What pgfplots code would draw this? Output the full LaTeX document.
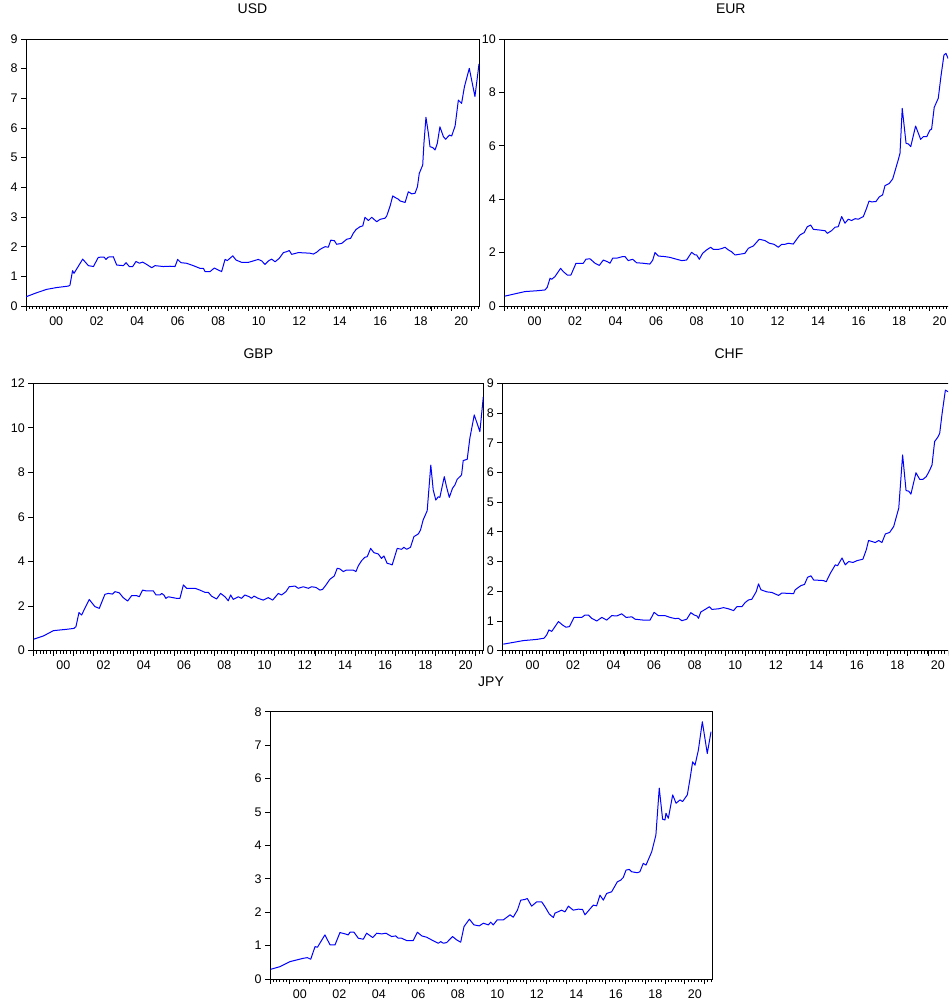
\documentclass[border=0pt]{standalone}
\usepackage{pgfplots}
\pgfplotsset{compat=1.18}
\usepackage{fontspec}
\setmainfont{Liberation Sans}
\pgfplotsset{
 ev/.style={
  scale only axis,
  xmin=1999, xmax=2021.37,
  ymin=0,
  axis line style={line width=0.9pt},
  tick align=outside,
  xtick pos=left, ytick pos=left,
  xtick={1999,...,2021},
  xticklabels={,00,,02,,04,,06,,08,,10,,12,,14,,16,,18,,20,},
  xticklabel style={xshift=10pt, yshift=-2pt},
  minor xtick={1999.16667,1999.33333,...,2021.34},
  major tick length=5pt,
  minor tick length=3pt,
  tick style={black, line width=0.8pt},
  tick label style={font=\fontsize{12.5}{12.5}\selectfont},
  /pgf/number format/assume math mode=true,
  title style={font=\fontsize{14}{14}\selectfont, at={(0.5,1)}, anchor=base, yshift=19pt},
  no markers,
  every axis plot/.append style={color={rgb,255:red,0;green,0;blue,255}, line width=1pt, line join=round, mark=none},
 }
}
\begin{document}
\begin{tikzpicture}[x=1pt,y=1pt]
\path[use as bounding box] (0,0) rectangle (948,1008);
\clip (0,0) rectangle (948,1008);
% USD
\begin{axis}[ev, at={(26pt,702pt)}, anchor=south west, width=453pt, height=267pt,
  ymax=9, ytick={0,1,...,9}, title={USD}]
\addplot table {
x y
1999.00 0.31
1999.50 0.44
2000.02 0.56
2000.50 0.62
2001.09 0.67
2001.17 0.70
2001.30 1.19
2001.37 1.10
2001.80 1.58
2002.08 1.36
2002.33 1.33
2002.57 1.64
2002.85 1.65
2002.95 1.57
2003.07 1.65
2003.31 1.66
2003.48 1.38
2003.81 1.36
2003.94 1.46
2004.10 1.33
2004.27 1.33
2004.43 1.50
2004.60 1.44
2004.76 1.48
2004.96 1.40
2005.21 1.29
2005.37 1.36
2005.78 1.33
2006.11 1.34
2006.36 1.33
2006.49 1.57
2006.65 1.46
2006.93 1.44
2007.26 1.36
2007.59 1.27
2007.76 1.27
2007.84 1.16
2008.09 1.16
2008.30 1.28
2008.50 1.21
2008.66 1.16
2008.83 1.57
2008.94 1.53
2009.21 1.69
2009.37 1.55
2009.65 1.47
2009.98 1.47
2010.23 1.52
2010.47 1.57
2010.64 1.52
2010.80 1.40
2010.97 1.52
2011.13 1.58
2011.30 1.49
2011.51 1.61
2011.71 1.80
2011.87 1.83
2012.00 1.87
2012.12 1.74
2012.45 1.80
2013.02 1.78
2013.19 1.75
2013.35 1.81
2013.52 1.91
2013.77 2.00
2013.93 1.98
2014.05 2.22
2014.23 2.20
2014.34 2.08
2014.59 2.11
2014.84 2.25
2015.03 2.28
2015.16 2.45
2015.30 2.58
2015.49 2.67
2015.63 2.70
2015.74 2.99
2015.91 2.88
2016.07 2.99
2016.32 2.84
2016.48 2.92
2016.73 2.96
2016.81 3.03
2016.98 3.37
2017.11 3.71
2017.22 3.66
2017.39 3.60
2017.47 3.54
2017.72 3.49
2017.88 3.85
2018.05 3.78
2018.21 3.80
2018.33 4.02
2018.42 4.47
2018.59 4.75
2018.65 5.48
2018.75 6.36
2018.87 5.82
2018.95 5.37
2019.08 5.34
2019.20 5.26
2019.31 5.48
2019.44 6.04
2019.61 5.71
2019.72 5.62
2019.91 5.76
2020.02 5.73
2020.19 6.07
2020.35 6.94
2020.51 6.83
2020.65 7.39
2020.89 8.01
2021.17 7.06
2021.37 8.16
};
\end{axis}
% EUR
\begin{axis}[ev, at={(504.3pt,702pt)}, anchor=south west, width=453pt, height=267pt,
  ymax=10, ytick={0,2,...,10}, title={EUR}]
\addplot table {
x y
1999.03 0.37
2000.02 0.54
2000.60 0.57
2001.01 0.60
2001.12 0.70
2001.26 1.04
2001.34 1.00
2001.50 1.10
2001.78 1.41
2001.91 1.29
2002.11 1.16
2002.29 1.16
2002.54 1.60
2002.90 1.60
2003.03 1.75
2003.23 1.77
2003.48 1.60
2003.69 1.52
2003.89 1.72
2004.09 1.66
2004.22 1.60
2004.35 1.79
2004.55 1.79
2004.84 1.85
2004.96 1.85
2005.12 1.70
2005.34 1.75
2005.53 1.62
2005.86 1.60
2006.19 1.57
2006.33 1.72
2006.44 2.00
2006.61 1.87
2006.93 1.85
2007.18 1.82
2007.51 1.75
2007.76 1.70
2008.00 1.72
2008.25 2.01
2008.42 1.91
2008.50 1.91
2008.63 1.75
2008.79 1.97
2008.99 2.10
2009.19 2.20
2009.32 2.12
2009.57 2.12
2009.73 2.15
2009.90 2.20
2010.06 2.10
2010.23 2.03
2010.39 1.91
2010.72 1.95
2010.88 1.97
2011.05 2.16
2011.30 2.25
2011.59 2.50
2011.87 2.45
2012.09 2.35
2012.32 2.31
2012.53 2.20
2012.70 2.31
2012.86 2.31
2013.02 2.35
2013.27 2.32
2013.44 2.50
2013.60 2.66
2013.81 2.75
2013.96 2.97
2014.13 3.03
2014.26 2.87
2014.51 2.85
2014.84 2.82
2014.95 2.72
2015.16 2.82
2015.33 2.95
2015.49 2.97
2015.66 3.35
2015.82 3.10
2015.99 3.25
2016.15 3.20
2016.32 3.27
2016.48 3.25
2016.73 3.35
2016.89 3.66
2017.01 3.93
2017.14 3.90
2017.35 3.91
2017.52 4.09
2017.68 4.16
2017.80 4.51
2018.01 4.59
2018.18 4.76
2018.46 5.49
2018.54 5.72
2018.65 7.40
2018.84 6.09
2018.95 6.07
2019.07 5.97
2019.31 6.74
2019.56 6.24
2019.69 6.34
2019.86 6.34
2020.02 6.59
2020.10 6.62
2020.23 7.44
2020.43 7.78
2020.56 8.59
2020.71 9.40
2020.81 9.46
2020.91 9.28
2021.10 9.20
2021.37 9.50
};
\end{axis}
% GBP
\begin{axis}[ev, at={(33.3pt,357.3pt)}, anchor=south west, width=450pt, height=267.4pt,
  ymax=12, ytick={0,2,...,12}, title={GBP}]
\addplot table {
x y
1999.03 0.52
1999.50 0.66
2000.00 0.90
2000.33 0.93
2000.66 0.96
2001.02 1.00
2001.12 1.08
2001.27 1.71
2001.40 1.60
2001.78 2.30
2002.06 1.98
2002.28 1.90
2002.56 2.53
2002.73 2.57
2002.94 2.54
2003.06 2.65
2003.27 2.60
2003.47 2.38
2003.69 2.23
2003.89 2.47
2004.14 2.47
2004.27 2.42
2004.43 2.72
2004.63 2.68
2004.96 2.69
2005.10 2.50
2005.30 2.50
2005.38 2.57
2005.49 2.50
2005.59 2.35
2005.71 2.42
2006.12 2.35
2006.29 2.35
2006.46 2.95
2006.62 2.80
2007.04 2.80
2007.28 2.72
2007.53 2.62
2007.70 2.62
2007.86 2.45
2008.11 2.32
2008.31 2.57
2008.53 2.42
2008.69 2.24
2008.81 2.50
2008.94 2.30
2009.19 2.42
2009.35 2.35
2009.52 2.50
2009.74 2.42
2009.85 2.35
2009.97 2.45
2010.18 2.35
2010.43 2.27
2010.68 2.38
2010.90 2.27
2011.18 2.57
2011.34 2.50
2011.56 2.65
2011.72 2.87
2012.01 2.90
2012.17 2.80
2012.42 2.87
2012.67 2.80
2012.83 2.87
2013.05 2.84
2013.25 2.72
2013.38 2.75
2013.55 2.95
2013.74 3.20
2013.96 3.35
2014.11 3.70
2014.24 3.67
2014.41 3.55
2014.57 3.62
2014.90 3.62
2015.04 3.55
2015.15 3.80
2015.32 4.04
2015.48 4.19
2015.60 4.22
2015.77 4.59
2015.93 4.40
2016.15 4.34
2016.31 4.14
2016.43 4.25
2016.59 3.92
2016.73 3.89
2016.84 3.85
2017.09 4.59
2017.31 4.55
2017.42 4.64
2017.56 4.55
2017.75 4.64
2017.92 5.12
2018.14 5.24
2018.25 5.42
2018.38 5.87
2018.58 6.28
2018.76 8.33
2018.88 7.21
2019.01 6.76
2019.13 6.91
2019.21 6.88
2019.43 7.81
2019.54 7.36
2019.68 6.88
2019.84 7.29
2019.96 7.44
2020.07 7.69
2020.24 7.84
2020.29 7.89
2020.37 8.53
2020.57 8.59
2020.70 9.53
2020.92 10.58
2021.20 9.83
2021.37 11.40
};
\end{axis}
% CHF
\begin{axis}[ev, at={(502.3pt,357.3pt)}, anchor=south west, width=453.4pt, height=267.4pt,
  ymax=9, ytick={0,1,...,9}, title={CHF}]
\addplot table {
x y
1999.05 0.22
2000.04 0.34
2000.70 0.38
2001.06 0.42
2001.19 0.53
2001.30 0.70
2001.44 0.65
2001.77 0.98
2001.98 0.86
2002.14 0.79
2002.31 0.81
2002.54 1.12
2002.92 1.12
2003.08 1.20
2003.25 1.20
2003.41 1.09
2003.66 1.00
2003.91 1.12
2004.15 1.03
2004.40 1.18
2004.65 1.17
2004.89 1.24
2005.11 1.12
2005.39 1.14
2005.55 1.06
2005.96 1.03
2006.29 1.03
2006.49 1.29
2006.70 1.18
2007.03 1.18
2007.28 1.12
2007.53 1.08
2007.69 1.09
2007.86 1.01
2008.10 1.06
2008.30 1.28
2008.47 1.20
2008.60 1.17
2008.68 1.09
2008.79 1.30
2009.01 1.39
2009.22 1.48
2009.34 1.39
2009.67 1.41
2009.91 1.45
2010.16 1.41
2010.41 1.35
2010.57 1.48
2010.82 1.48
2010.98 1.62
2011.15 1.71
2011.31 1.73
2011.53 1.99
2011.64 2.25
2011.76 2.05
2012.05 1.98
2012.30 1.96
2012.63 1.86
2012.79 1.94
2013.37 1.92
2013.45 2.05
2013.73 2.19
2013.91 2.23
2014.06 2.47
2014.23 2.52
2014.36 2.38
2014.85 2.36
2014.98 2.32
2015.18 2.60
2015.43 2.89
2015.54 2.86
2015.76 3.12
2015.92 2.89
2016.09 3.00
2016.30 2.97
2016.50 3.03
2016.79 3.08
2016.96 3.40
2017.07 3.71
2017.40 3.64
2017.57 3.71
2017.73 3.64
2017.90 3.93
2018.11 3.98
2018.31 4.18
2018.56 4.80
2018.75 6.59
2018.92 5.39
2019.05 5.37
2019.16 5.27
2019.41 5.99
2019.59 5.77
2019.76 5.77
2019.92 5.86
2020.09 6.08
2020.20 6.25
2020.33 7.04
2020.48 7.18
2020.58 7.32
2020.70 7.99
2020.86 8.77
2021.01 8.71
2021.20 8.55
2021.37 8.85
};
\end{axis}
% JPY
\begin{axis}[ev, at={(270pt,29pt)}, anchor=south west, width=442pt, height=267.3pt,
  ymax=8, ytick={0,1,...,8}, title={JPY}]
\addplot table {
x y
1999.03 0.29
1999.51 0.37
2000.01 0.52
2000.35 0.57
2000.69 0.62
2000.89 0.64
2001.06 0.59
2001.28 0.97
2001.40 0.95
2001.78 1.32
2002.04 1.02
2002.29 1.02
2002.54 1.39
2002.80 1.35
2002.96 1.32
2003.05 1.40
2003.25 1.40
2003.47 1.22
2003.72 1.19
2003.89 1.37
2004.20 1.24
2004.40 1.37
2004.65 1.35
2004.87 1.37
2005.16 1.27
2005.36 1.29
2005.49 1.22
2005.66 1.22
2005.92 1.15
2006.25 1.15
2006.46 1.40
2006.68 1.29
2006.93 1.25
2007.18 1.17
2007.52 1.07
2007.64 1.12
2007.77 1.07
2007.94 1.09
2008.24 1.27
2008.45 1.17
2008.65 1.10
2008.82 1.57
2009.09 1.79
2009.32 1.62
2009.59 1.59
2009.80 1.67
2010.05 1.62
2010.17 1.70
2010.30 1.62
2010.50 1.77
2010.81 1.77
2011.15 1.92
2011.31 1.85
2011.52 2.06
2011.69 2.36
2011.90 2.38
2012.02 2.41
2012.24 2.18
2012.50 2.31
2012.75 2.31
2012.92 2.16
2013.14 1.94
2013.34 1.84
2013.42 1.97
2013.76 2.06
2013.93 2.01
2014.10 2.18
2014.35 2.06
2014.60 2.09
2014.82 2.08
2014.94 1.92
2015.36 2.21
2015.53 2.19
2015.70 2.51
2015.87 2.36
2016.04 2.56
2016.29 2.61
2016.58 2.91
2016.75 2.96
2016.88 3.04
2017.02 3.26
2017.18 3.28
2017.30 3.21
2017.59 3.18
2017.72 3.21
2017.89 3.46
2018.03 3.41
2018.32 3.81
2018.53 4.31
2018.70 5.71
2018.87 4.78
2018.99 4.76
2019.04 4.96
2019.16 4.81
2019.38 5.51
2019.55 5.26
2019.75 5.36
2019.88 5.31
2020.12 5.51
2020.26 6.00
2020.39 6.50
2020.51 6.40
2020.68 6.85
2020.88 7.70
2021.13 6.75
2021.32 7.40
};
\end{axis}
\end{tikzpicture}
\end{document}
